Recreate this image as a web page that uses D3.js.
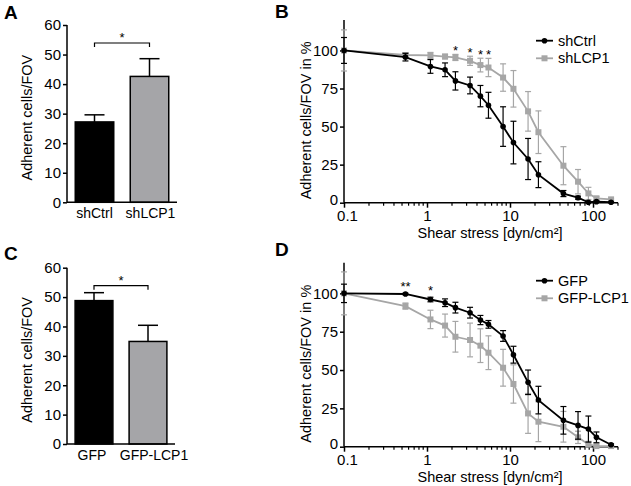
<!DOCTYPE html>
<html><head><meta charset="utf-8">
<script src="https://cdn.jsdelivr.net/npm/d3@7"></script>
<style>
body{margin:0;background:#fff;}
svg{display:block;font-family:"Liberation Sans",Arial,sans-serif;}
</style></head>
<body>
<svg id="chart" width="631" height="486"></svg>
<script>
// ---------- data ----------
const barCatsA = ["shCtrl", "shLCP1"];
const barValsA = [27.2, 42.6];
const barErrA  = [2.4, 6.0];
const barCatsC = ["GFP", "GFP-LCP1"];
const barValsC = [48.8, 34.9];
const barErrC  = [2.7, 5.5];
const barTicks = [0, 10, 20, 30, 40, 50, 60];

const shear = [0.1, 0.55, 1.1, 1.65, 2.2, 3.3, 4.4, 5.5, 8.25, 11, 16.5, 22, 44, 66, 88, 110, 165];
const xTickLabels = ["0.1", "1", "10", "100"];
const lineYTicks = [0, 25, 50, 75, 100];

const shCtrl    = [100, 95.6, 89.5, 87.3, 80, 77, 70, 64, 50, 39.5, 28.7, 18.4, 6, 3.3, 0.3, 0.7, 0.3];
const shCtrlErr = [8.5, 2.5, 4.5, 4.5, 6, 5.5, 7, 8.5, 13, 14, 13.5, 8.5, 2, 1, 0.5, 0.5, 0.3];
const shLCP1    = [100, 97, 96.7, 96, 95.4, 93.2, 90.4, 88.8, 82.2, 74.8, 60, 46.3, 24.3, 13.8, 6.1, 2.9, 2.2];
const shLCP1Err = [13.5, 1.5, 2, 1.5, 2, 3, 4.5, 6, 9, 12, 13, 14, 12.5, 8, 4, 1, 0.5];

const gfp       = [100, 99.6, 96, 93.9, 90.7, 87.4, 82.6, 79.8, 72.2, 60, 42, 30.4, 17.2, 13.9, 11.5, 6.1, 1.3];
const gfpErr    = [6, 0.5, 1.5, 2.5, 3.5, 3.5, 3, 2.5, 3.5, 5.5, 8, 9, 9, 9, 8.5, 3.5, 0.5];
const gfpLcp1   = [100, 91.7, 83, 79, 71.7, 69.6, 65.9, 61.3, 51.5, 40.9, 21.7, 16.3, 13, 6.1, 1.5, 0.4, 0.4];
const gfpLcp1Err= [14, 2, 6, 7.5, 10, 11, 11, 11, 12, 12.5, 13, 13, 10, 4, 2, 0.5, 0.3];

const starsB = [{x: 2.2, t: "*"}, {x: 3.3, t: "*"}, {x: 4.4, t: "*"}, {x: 5.5, t: "*"}];
const starsD = [{x: 0.55, t: "**"}, {x: 1.1, t: "*"}];

// ---------- style ----------
const BLACK = "#000";
const GRAY = "#a6a6a6";
const BARGRAY = "#a5a5a8";
const FS = 15;
const TFS = 14.5;
const CATFS = 14;

const svg = d3.select("#chart");

function panelLetter(t, x, y){
  svg.append("text").attr("x", x).attr("y", y).attr("font-size", 19).attr("font-weight", "bold").text(t);
}

function barPanel(cats, vals, errs, x0, x1, yBottom, yTop, letter, ly, labelShift){
  const g = svg.append("g");
  const x = d3.scaleBand().domain(cats).range([x0, x1]).paddingInner(0.3).paddingOuter(0.15);
  const y = d3.scaleLinear().domain([0, 60]).range([yBottom, yTop]);
  g.selectAll("rect.bar").data(cats).join("rect")
    .attr("x", d => x(d)).attr("width", x.bandwidth())
    .attr("y", (d, i) => y(vals[i])).attr("height", (d, i) => yBottom - y(vals[i]))
    .attr("fill", (d, i) => i === 0 ? BLACK : BARGRAY)
    .attr("stroke", BLACK).attr("stroke-width", 1.5);
  cats.forEach((c, i) => {
    const cx = x(c) + x.bandwidth() / 2;
    g.append("line").attr("x1", cx).attr("x2", cx).attr("y1", y(vals[i])).attr("y2", y(vals[i] + errs[i]))
      .attr("stroke", BLACK).attr("stroke-width", 1.5);
    g.append("line").attr("x1", cx - 10).attr("x2", cx + 10).attr("y1", y(vals[i] + errs[i])).attr("y2", y(vals[i] + errs[i]))
      .attr("stroke", BLACK).attr("stroke-width", 1.5);
  });
  const ya = g.append("g").attr("transform", `translate(${x0},0)`)
    .call(d3.axisLeft(y).tickValues(barTicks).tickSize(4).tickPadding(2));
  const xa = g.append("g").attr("transform", `translate(0,${yBottom})`)
    .call(d3.axisBottom(x).tickSize(0).tickPadding(6));
  [ya, xa].forEach(a => {
    a.select(".domain").attr("stroke-width", 1.5);
    a.selectAll("line").attr("stroke-width", 1.5);
    a.selectAll("text").attr("font-size", FS).attr("font-family", "Liberation Sans, Arial, sans-serif").attr("fill", "#000");
  });
  xa.selectAll("text").attr("font-size", CATFS).attr("dx", (d, i) => labelShift[i]);
  xa.select(".domain").attr("d", `M${x0},0H${x1}`);
  ya.select(".domain").attr("d", `M-0,${yBottom}V${yTop}`);
  g.append("text").attr("transform", `translate(32,${(yBottom + yTop) / 2 + 4}) rotate(-90)`)
    .attr("text-anchor", "middle").attr("font-size", TFS).text("Adherent cells/FOV");
  const c0 = x(cats[0]) + x.bandwidth() / 2, c1 = x(cats[1]) + x.bandwidth() / 2;
  const by = yTop + 18;
  g.append("path").attr("d", `M${c0},${by + 4}V${by}H${c1}V${by + 4}`)
    .attr("fill", "none").attr("stroke", BLACK).attr("stroke-width", 1.2);
  g.append("text").attr("x", (c0 + c1) / 2).attr("y", by - 1).attr("text-anchor", "middle")
    .attr("font-size", 13).text("*");
  panelLetter(letter, 4, ly);
}

function linePanel(yBottom, yTop){
  const g = svg.append("g");
  const x0 = 344, x1 = 618;
  const x = d3.scaleLog().domain([0.1, 200]).range([x0, x1]);
  const y = d3.scaleLinear().domain([0, 120]).range([yBottom, yTop]);

  const majors = [0.1, 1, 10, 100];
  const minors = [];
  majors.forEach(d => { for (let k = 2; k <= 9; k++) { const v = d * k; if (v <= 200) minors.push(v); } });
  const xa = g.append("g").attr("transform", `translate(0,${yBottom})`)
    .call(d3.axisBottom(x).tickValues(majors).tickFormat((d, i) => xTickLabels[i]).tickSize(5).tickPadding(3));
  xa.selectAll(".minor").data(minors).join("line").attr("class", "minor")
    .attr("x1", d => x(d)).attr("x2", d => x(d)).attr("y1", 0).attr("y2", 3)
    .attr("stroke", BLACK).attr("stroke-width", 1.2);
  const ya = g.append("g").attr("transform", `translate(${x0},0)`)
    .call(d3.axisLeft(y).tickValues(lineYTicks).tickSize(4).tickPadding(2));
  [ya, xa].forEach(a => {
    a.select(".domain").attr("stroke-width", 1.5);
    a.selectAll(".tick line").attr("stroke-width", 1.5);
    a.selectAll("text").attr("font-size", FS).attr("font-family", "Liberation Sans, Arial, sans-serif").attr("fill", "#000");
  });
  // keep the "0" and "0.1" corner labels apart, as in the reference
  ya.selectAll(".tick text").filter(d => d === 0).attr("y", -3);
  xa.selectAll(".tick text").filter(d => d === 0.1).attr("dx", 3);
  xa.select(".domain").attr("d", `M${x0},0H${x1}`);
  ya.select(".domain").attr("d", `M0,${yBottom}V${yTop}`);

  g.append("text").attr("x", 490).attr("y", yBottom + 35).attr("text-anchor", "middle").attr("font-size", TFS)
    .text("Shear stress [dyn/cm²]");
  g.append("text").attr("transform", `translate(311,${(yBottom + yTop) / 2 + 9}) rotate(-90)`)
    .attr("text-anchor", "middle").attr("font-size", TFS).text("Adherent cells/FOV in %");

  function series(vals, errs, color, shape){
    const sg = g.append("g");
    sg.selectAll("g.err").data(shear).join("g").each(function(d, i){
      const el = d3.select(this);
      const cx = x(d), t = y(vals[i] + errs[i]), b = y(Math.max(0, vals[i] - errs[i]));
      el.append("line").attr("x1", cx).attr("x2", cx).attr("y1", t).attr("y2", b).attr("stroke", color).attr("stroke-width", 1.2);
      el.append("line").attr("x1", cx - 3).attr("x2", cx + 3).attr("y1", t).attr("y2", t).attr("stroke", color).attr("stroke-width", 1.2);
      el.append("line").attr("x1", cx - 3).attr("x2", cx + 3).attr("y1", b).attr("y2", b).attr("stroke", color).attr("stroke-width", 1.2);
    });
    sg.append("path").datum(shear)
      .attr("d", d3.line().x(d => x(d)).y((d, i) => y(vals[i])))
      .attr("fill", "none").attr("stroke", color).attr("stroke-width", 1.8);
    if (shape === "circle") {
      sg.selectAll("circle").data(shear).join("circle").attr("cx", d => x(d)).attr("cy", (d, i) => y(vals[i])).attr("r", 2.8).attr("fill", color);
    } else {
      sg.selectAll("rect").data(shear).join("rect").attr("x", d => x(d) - 3).attr("y", (d, i) => y(vals[i]) - 3)
        .attr("width", 6).attr("height", 6).attr("fill", color);
    }
  }
  return {g, x, y, series};
}

// ---------- panel A & C ----------
barPanel(barCatsA, barValsA, barErrA, 67, 177, 202.3, 25, "A", 19, [0, 1]);
barPanel(barCatsC, barValsC, barErrC, 67, 175, 444, 267.7, "C", 260, [-2, 6]);

// ---------- panels B & D ----------
function buildLine(a, b, names, stars, starRef, starOff, yBottom, yTop, letter, ly, legY){
  const p = linePanel(yBottom, yTop);
  p.series(b.vals, b.errs, GRAY, "square");
  p.series(a.vals, a.errs, BLACK, "circle");
  stars.forEach(s => {
    const i = shear.indexOf(s.x);
    const top = starRef[0][i] + starRef[1][i];
    p.g.append("text").attr("x", p.x(s.x)).attr("y", p.y(top) + starOff).attr("text-anchor", "middle")
      .attr("font-size", 13).text(s.t);
  });
  const items = [{n: names[0], c: BLACK, s: "circle"}, {n: names[1], c: GRAY, s: "square"}];
  items.forEach((it, k) => {
    const ly2 = legY + k * 17.6;
    p.g.append("line").attr("x1", 536).attr("x2", 553).attr("y1", ly2).attr("y2", ly2).attr("stroke", it.c).attr("stroke-width", 1.8);
    if (it.s === "circle") p.g.append("circle").attr("cx", 544.5).attr("cy", ly2).attr("r", 2.8).attr("fill", it.c);
    else p.g.append("rect").attr("x", 541.5).attr("y", ly2 - 3).attr("width", 6).attr("height", 6).attr("fill", it.c);
    p.g.append("text").attr("x", 558).attr("y", ly2 + 5).attr("font-size", TFS).text(it.n);
  });
  panelLetter(letter, 275, ly);
}

buildLine({vals: shCtrl, errs: shCtrlErr}, {vals: shLCP1, errs: shLCP1Err}, ["shCtrl", "shLCP1"],
  starsB, [shLCP1, shLCP1Err], 1, 202.7, 20, "B", 18, 40.7);
buildLine({vals: gfp, errs: gfpErr}, {vals: gfpLcp1, errs: gfpLcp1Err}, ["GFP", "GFP-LCP1"],
  starsD, [gfp, gfpErr], -2, 446.7, 262.7, "D", 256, 280.7);
</script>
</body></html>
